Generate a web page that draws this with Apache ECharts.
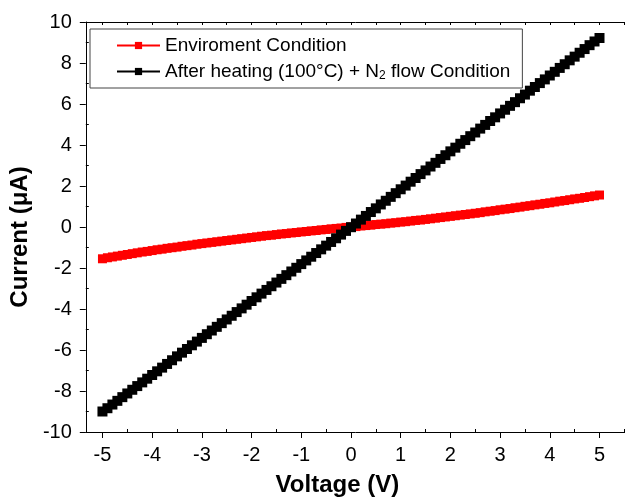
<!DOCTYPE html>
<title>iv curve</title>
<style>
body {margin: 0;}
#echart {height: 502px; width: 625px;}
</style>
<div id='echart'></div>
<script src='https://cdn.jsdelivr.net/npm/echarts@6.0.0/dist/echarts.min.js'></script>
<script>
let voltage = [
	-5.0, -4.9, -4.8, -4.7, -4.6, -4.5, -4.4, -4.3, -4.2, -4.1,
	-4.0, -3.9, -3.8, -3.7, -3.6, -3.5, -3.4, -3.3, -3.2, -3.1,
	-3.0, -2.9, -2.8, -2.7, -2.6, -2.5, -2.4, -2.3, -2.2, -2.1,
	-2.0, -1.9, -1.8, -1.7, -1.6, -1.5, -1.4, -1.3, -1.2, -1.1,
	-1.0, -0.9, -0.8, -0.7, -0.6, -0.5, -0.4, -0.3, -0.2, -0.1,
	0.0, 0.1, 0.2, 0.3, 0.4, 0.5, 0.6, 0.7, 0.8, 0.9,
	1.0, 1.1, 1.2, 1.3, 1.4, 1.5, 1.6, 1.7, 1.8, 1.9,
	2.0, 2.1, 2.2, 2.3, 2.4, 2.5, 2.6, 2.7, 2.8, 2.9,
	3.0, 3.1, 3.2, 3.3, 3.4, 3.5, 3.6, 3.7, 3.8, 3.9,
	4.0, 4.1, 4.2, 4.3, 4.4, 4.5, 4.6, 4.7, 4.8, 4.9,
	5.0,
]
let environment_current = [
	-1.55, -1.50, -1.46, -1.42, -1.38, -1.34, -1.30, -1.26, -1.22, -1.19,
	-1.15, -1.11, -1.08, -1.04, -1.01, -0.98, -0.94, -0.91, -0.88, -0.84,
	-0.81, -0.78, -0.75, -0.72, -0.69, -0.66, -0.63, -0.60, -0.57, -0.54,
	-0.51, -0.48, -0.45, -0.42, -0.40, -0.37, -0.34, -0.32, -0.29, -0.27,
	-0.24, -0.22, -0.19, -0.17, -0.14, -0.12, -0.09, -0.07, -0.05, -0.02,
	0.00, 0.02, 0.05, 0.07, 0.09, 0.12, 0.14, 0.16, 0.19, 0.21,
	0.24, 0.26, 0.29, 0.32, 0.34, 0.37, 0.40, 0.43, 0.46, 0.49,
	0.52, 0.55, 0.58, 0.61, 0.64, 0.67, 0.70, 0.74, 0.77, 0.80,
	0.84, 0.87, 0.90, 0.94, 0.97, 1.01, 1.04, 1.08, 1.11, 1.15,
	1.18, 1.22, 1.26, 1.29, 1.33, 1.37, 1.40, 1.44, 1.48, 1.52,
	1.56,
]
let heated_current = [
	-9.00, -8.84, -8.66, -8.48, -8.30, -8.12, -7.94, -7.76, -7.58, -7.40,
	-7.22, -7.04, -6.86, -6.68, -6.50, -6.31, -6.13, -5.95, -5.77, -5.59,
	-5.41, -5.23, -5.05, -4.87, -4.69, -4.51, -4.33, -4.15, -3.97, -3.79,
	-3.61, -3.43, -3.25, -3.07, -2.89, -2.71, -2.53, -2.35, -2.17, -1.99,
	-1.81, -1.63, -1.45, -1.27, -1.09, -0.91, -0.73, -0.55, -0.37, -0.19,
	-0.01, 0.17, 0.36, 0.54, 0.73, 0.91, 1.10, 1.28, 1.47, 1.65,
	1.84, 2.02, 2.21, 2.39, 2.58, 2.76, 2.95, 3.13, 3.32, 3.50,
	3.69, 3.87, 4.06, 4.24, 4.43, 4.61, 4.80, 4.98, 5.17, 5.35,
	5.54, 5.72, 5.91, 6.09, 6.28, 6.46, 6.65, 6.83, 7.02, 7.20,
	7.39, 7.57, 7.76, 7.94, 8.13, 8.31, 8.50, 8.68, 8.87, 9.05,
	9.22,
]
let x_ticks = [-5, -4, -3, -2, -1, 0, 1, 2, 3, 4, 5]
let x_minor_ticks = [-4.5, -3.5, -2.5, -1.5, -0.5, 0.5, 1.5, 2.5, 3.5, 4.5, 5.5]
let y_minor_ticks = [-9, -7, -5, -3, -1, 1, 3, 5, 7, 9]
let series_names = ['Enviroment Condition', 'After heating (100°C) + N{sub|2} flow Condition']

let font = 'Liberation Sans'
let pair = (ys) => voltage.map((v, i) => [v, ys[i]])
let x_range = {min: -5.335, max: 5.513}
let black = '#000'
let tick_style = {color: black, width: 1}

let echart = echarts.init(document.querySelector('#echart'))
let option = {
	animation: false,
	textStyle: {fontFamily: font},
	grid: {left: 80, top: 22, width: 551, height: 410, show: false},
	xAxis: [
		{type: 'value', ...x_range, position: 'bottom', name: 'Voltage (V)', nameLocation: 'middle', nameGap: 41,
			nameTextStyle: {fontFamily: font, fontSize: 24, fontWeight: 'bold', color: black, padding: [0, 36, 0, 0]},
			axisLine: {onZero: false, lineStyle: {color: black, width: 1}},
			axisTick: {customValues: x_ticks, length: 6, lineStyle: tick_style},
			axisLabel: {customValues: x_ticks, margin: 13, fontSize: 20, color: black, fontFamily: font},
			splitLine: {show: false}},
		{type: 'value', ...x_range, position: 'bottom',
			axisLine: {show: false, onZero: false},
			axisTick: {customValues: x_minor_ticks, inside: true, length: 3, lineStyle: tick_style},
			axisLabel: {show: false}, splitLine: {show: false}},
		{type: 'value', ...x_range, position: 'top',
			axisLine: {onZero: false, lineStyle: {color: black, width: 1}},
			axisTick: {customValues: x_ticks.concat(x_minor_ticks), inside: true, length: 3, lineStyle: tick_style},
			axisLabel: {show: false}, splitLine: {show: false}},
	],
	yAxis: [
		{type: 'value', min: -10, max: 10, interval: 2, position: 'left', name: 'Current (μA)', nameLocation: 'middle', nameGap: 47,
			nameTextStyle: {fontFamily: font, fontSize: 24, fontWeight: 'bold', color: black, padding: [0, 20, 0, 0]},
			axisLine: {show: true, onZero: false, lineStyle: {color: black, width: 1}},
			axisTick: {show: true, length: 6, lineStyle: tick_style},
			axisLabel: {margin: 14, fontSize: 20, color: black, fontFamily: font},
			splitLine: {show: false}},
		{type: 'value', min: -10, max: 10, position: 'left',
			axisLine: {show: false, onZero: false},
			axisTick: {show: true, customValues: y_minor_ticks, inside: true, length: 3, lineStyle: tick_style},
			axisLabel: {show: false}, splitLine: {show: false}},
	],
	series: [
		{type: 'line', name: series_names[0], data: pair(environment_current), xAxisIndex: 0, yAxisIndex: 0,
			symbol: 'rect', symbolSize: 9, showAllSymbol: true, color: '#ff0000', lineStyle: {width: 1, color: '#ff0000'},
			itemStyle: {color: '#ff0000'}, z: 2},
		{type: 'line', name: series_names[1], data: pair(heated_current), xAxisIndex: 0, yAxisIndex: 0,
			symbol: 'rect', symbolSize: 10, showAllSymbol: true, color: black, lineStyle: {width: 1, color: black},
			itemStyle: {color: black}, z: 3},
	],
	legend: {
		show: true, orient: 'vertical', left: 90, top: 29,
		padding: [7, 12, 6, 26], itemGap: 7, itemWidth: 43, itemHeight: 9,
		borderColor: '#444', borderWidth: 1, borderRadius: 0, backgroundColor: '#fff',
		textStyle: {fontFamily: font, fontSize: 19, color: black,
			rich: {sub: {fontFamily: font, fontSize: 12, color: black, verticalAlign: 'bottom', padding: [9, 0, 0, 0]}}},
		data: series_names,
	},
}

echart.setOption(option)
</script>
